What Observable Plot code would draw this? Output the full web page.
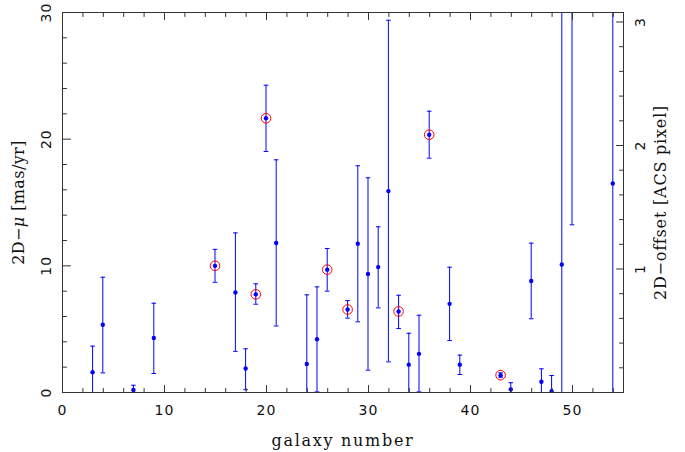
<!DOCTYPE html>
<html><head><meta charset="utf-8">
<script src="https://cdn.jsdelivr.net/npm/d3@7"></script>
<script src="https://cdn.jsdelivr.net/npm/@observablehq/plot@0.6"></script>
<style>body{margin:0;background:#fff} svg{display:block}</style>
</head><body><div id="chart"></div>
<script>
// galaxy numbers, 2D proper motion [mas/yr] and error bar ends
const galaxy = [3, 4, 7, 9, 15, 17, 18, 19, 20, 21, 24, 25, 26, 28, 29, 30, 31, 32, 33, 34, 35, 36, 38, 39, 43, 44, 46, 47, 48, 49, 50, 54];
const mu     = [1.6, 5.35, 0.2, 4.3, 10.0, 7.9, 1.9, 7.75, 21.65, 11.8, 2.25, 4.2, 9.7, 6.55, 11.75, 9.35, 9.9, 15.9, 6.4, 2.2, 3.05, 20.35, 7.0, 2.2, 1.37, 0.25, 8.8, 0.85, 0.1, 10.1, 32, 16.5];
const muLo   = [-0.5, 1.55, -0.3, 1.5, 8.7, 3.25, 0.22, 6.97, 19.03, 5.25, -0.5, 0.05, 8.0, 5.87, 5.58, 1.76, 6.68, 2.42, 5.05, -0.5, 0.05, 18.5, 4.1, 1.42, 1.2, -0.3, 5.82, -0.3, -0.3, -0.5, 13.24, -0.5];
const muHi   = [3.66, 9.1, 0.57, 7.05, 11.3, 12.6, 3.45, 8.58, 24.26, 18.37, 7.71, 8.34, 11.37, 7.26, 17.9, 16.95, 13.08, 29.39, 7.68, 4.68, 6.1, 22.21, 9.89, 2.95, 1.55, 0.77, 11.79, 1.87, 1.34, 34, 50, 34];
const flagged = [15, 19, 20, 26, 28, 33, 36, 43];

// axis ticks
const xMajor = [0, 10, 20, 30, 40, 50];
const xMinor = [2, 4, 6, 8, 12, 14, 16, 18, 22, 24, 26, 28, 32, 34, 36, 38, 42, 44, 46, 48, 52, 54];
const yMajor = [0, 10, 20, 30];
const yMinor = [2, 4, 6, 8, 12, 14, 16, 18, 22, 24, 26, 28];
const pixMajor = [1, 2, 3];
const pixMinor = [0.2, 0.4, 0.6, 0.8, 1.2, 1.4, 1.6, 1.8, 2.2, 2.4, 2.6, 2.8];
const masPerPixel = 9.75; // 1 ACS pixel offset in mas/yr

const xTitle = "galaxy number";
const yTitle = "2D\u2212\u03bc [mas/yr]";
const y2Title = "2D\u2212offset [ACS pixel]";

const data = galaxy.map((g, i) => ({g, mu: mu[i], lo: muLo[i], hi: muHi[i], flag: flagged.includes(g)}));

const lineShape = {draw(context, l) { context.moveTo(0, 0); context.lineTo(0, -l); }};
const capSymbol = {draw(context, size) { const r = Math.sqrt(size / Math.PI); context.moveTo(-r, 0); context.lineTo(r, 0); }};

const axisColor = "#333";
const tickFont = {fontFamily: "DejaVu Sans", fontSize: 14, fill: "#111", textAnchor: "middle", lineAnchor: "middle"};
const titleFont = {fontFamily: "DejaVu Serif", fontSize: 16, fill: "#111", textAnchor: "middle", lineAnchor: "middle"};

function ticks(vals, opts, len) {
  return Plot.vector(vals, {...opts, length: len, anchor: "start", shape: lineShape, stroke: axisColor, strokeWidth: 1});
}

const chart = Plot.plot({
  width: 685, height: 452,
  marginLeft: 62, marginRight: 62, marginTop: 12, marginBottom: 60,
  x: {domain: [0, 55], axis: null},
  y: {domain: [0, 30], axis: null},
  style: {background: "#fff"},
  marks: [
    // error bars
    Plot.ruleX(data, {x: "g", y1: "lo", y2: "hi", stroke: "#0000ff", strokeWidth: 1, dx: -0.5, clip: true}),
    Plot.dot(data, {x: "g", y: "lo", symbol: capSymbol, r: 2.3, stroke: "#0000ff", strokeWidth: 1, fill: "none", dx: -0.5, clip: true}),
    Plot.dot(data, {x: "g", y: "hi", symbol: capSymbol, r: 2.3, stroke: "#0000ff", strokeWidth: 1, fill: "none", dx: -0.5, clip: true}),
    Plot.dot(data, {x: "g", y: "mu", r: 2.2, fill: "#0000ff", stroke: "none", dx: -0.5, clip: true}),
    Plot.dot(data.filter(d => d.flag), {x: "g", y: "mu", r: 4.8, stroke: "red", strokeWidth: 1, fill: "none", dx: -0.5, clip: true}),
    Plot.frame({stroke: axisColor}),
    // inward ticks
    ticks(xMajor, {x: d => d, frameAnchor: "bottom", rotate: 0}, 7),
    ticks(xMinor, {x: d => d, frameAnchor: "bottom", rotate: 0}, 4),
    ticks(xMajor, {x: d => d, frameAnchor: "top", rotate: 180}, 7),
    ticks(xMinor, {x: d => d, frameAnchor: "top", rotate: 180}, 4),
    ticks(yMajor, {y: d => d, frameAnchor: "left", rotate: 90}, 8),
    ticks(yMinor, {y: d => d, frameAnchor: "left", rotate: 90}, 4),
    ticks(pixMajor, {y: d => d * masPerPixel, frameAnchor: "right", rotate: -90}, 7),
    ticks(pixMinor, {y: d => d * masPerPixel, frameAnchor: "right", rotate: -90}, 4),
    // tick labels
    Plot.text(xMajor, {x: d => d, text: d => String(d), frameAnchor: "bottom", dy: 18, ...tickFont}),
    Plot.text(yMajor, {y: d => d, text: d => String(d), frameAnchor: "left", dx: -16, rotate: -90, ...tickFont}),
    Plot.text(pixMajor, {y: d => d * masPerPixel, text: d => String(d), frameAnchor: "right", dx: 17, rotate: -90, ...tickFont}),
    // axis titles
    Plot.text([xTitle], {text: d => d, frameAnchor: "bottom", dy: 48, ...titleFont}),
    Plot.text([yTitle], {text: d => d, frameAnchor: "left", dx: -44, rotate: -90, ...titleFont}),
    Plot.text([y2Title], {text: d => d, frameAnchor: "right", dx: 37, rotate: -90, ...titleFont})
  ]
});
// letter spacing and italic mu
for (const t of chart.querySelectorAll("text")) {
  const s = t.textContent;
  if (/^\d+$/.test(s)) t.setAttribute("letter-spacing", "1");
  else if (s === xTitle) t.setAttribute("letter-spacing", "1.7");
  else if (s === y2Title) t.setAttribute("letter-spacing", "0.8");
  else if (s === yTitle) {
    t.setAttribute("letter-spacing", "0.4");
    t.textContent = "";
    for (const [part, style] of [["2D\u2212", null], ["\u03bc", "italic"], [" [mas/yr]", null]]) {
      const ts = document.createElementNS("http://www.w3.org/2000/svg", "tspan");
      ts.textContent = part;
      if (style) ts.setAttribute("font-style", style);
      t.appendChild(ts);
    }
  }
}
document.getElementById("chart").append(chart);
</script>
</body></html>
